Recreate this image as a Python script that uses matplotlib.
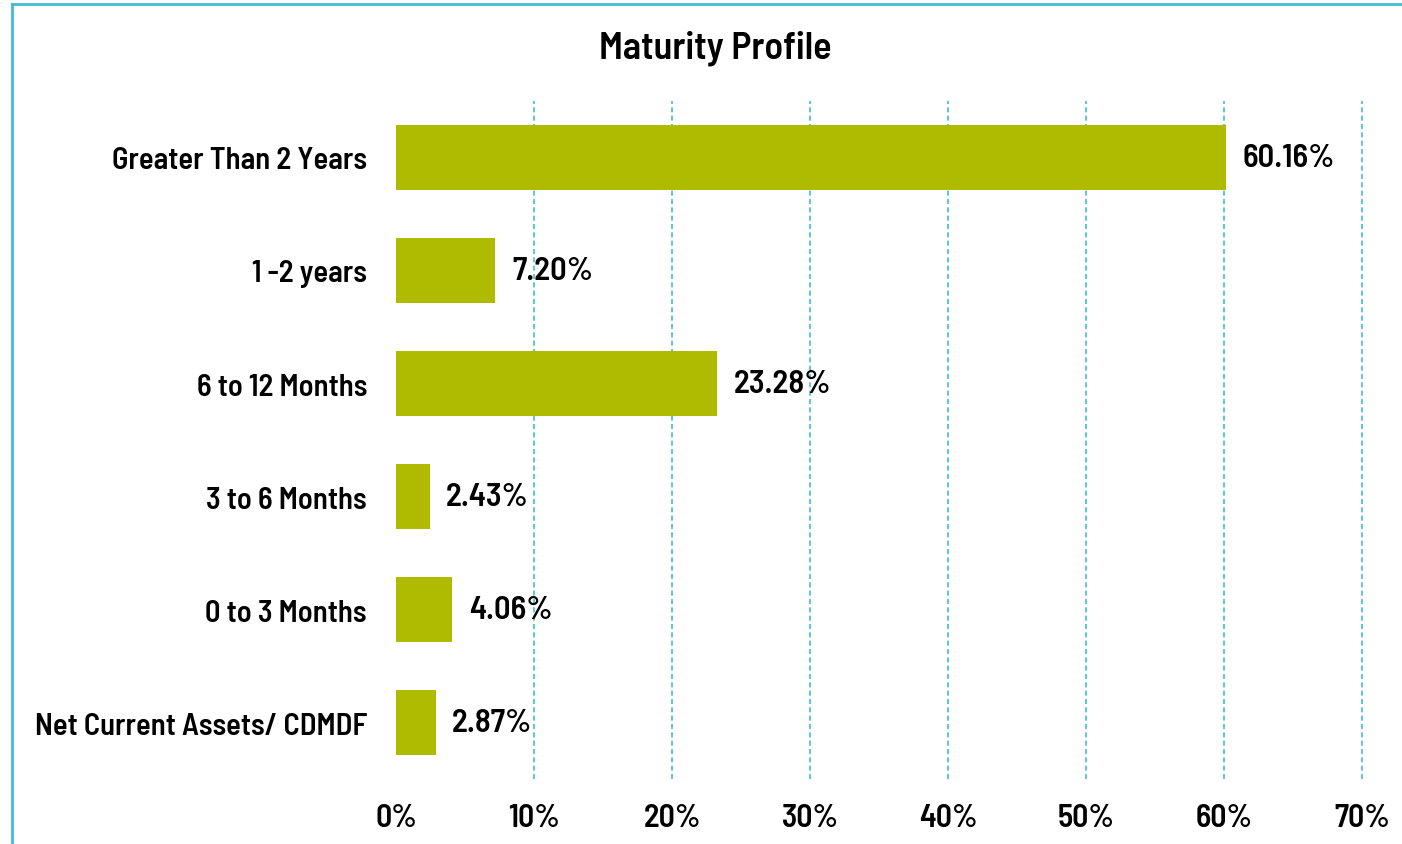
import matplotlib
matplotlib.use("Agg")
from matplotlib import pyplot as plt
import matplotlib.lines as mlines

categories = [
    "Greater Than 2 Years",
    "1 -2 years",
    "6 to 12 Months",
    "3 to 6 Months",
    "0 to 3 Months",
    "Net Current Assets/ CDMDF",
]
values = [60.16, 7.20, 23.28, 2.43, 4.06, 2.87]
ticks = [0, 10, 20, 30, 40, 50, 60, 70]

plt.rcParams['font.family'] = ['Barlow Semi Condensed', 'DejaVu Sans']
plt.rcParams['font.weight'] = 600

bar_color = "#afbb00"
line_color = "#3fbdd3"

fig = plt.figure(figsize=(14.02, 8.45), dpi=100)
ax = fig.add_axes([0.2825, 0.0769, 0.689, 0.8024])

y = range(len(categories))
ax.barh(y, values, height=0.57, color=bar_color, zorder=3)
for yi, v in zip(y, values):
    ax.text(v + 1.2, yi, f"{v:.2f}%", va="center", ha="left", fontsize=23.5, fontweight=600)

ax.set_ylim(len(categories) - 0.5, -0.5)
ax.set_xlim(0, 70)
ax.set_yticks(list(y))
ax.set_yticklabels(categories, fontsize=22, fontweight=600)
ax.set_xticks(ticks)
ax.set_xticklabels([f"{t}%" for t in ticks], fontsize=23, fontweight=600)
ax.tick_params(axis="both", length=0)
ax.tick_params(axis="y", pad=21)
ax.tick_params(axis="x", pad=17)

for t in ticks[1:]:
    ax.axvline(t, color=line_color, linestyle=(0, (3, 2)), linewidth=1.2, zorder=1, clip_on=False)
for s in ax.spines.values():
    s.set_visible(False)

fig.text(0.51, 0.943, "Maturity Profile", ha="center", va="center", fontsize=27.5, fontweight=600)

# outer frame (left and top edges)
fig.add_artist(mlines.Line2D([12 / 1402, 12 / 1402], [0, 1 - 5 / 845], color=line_color, linewidth=2))
fig.add_artist(mlines.Line2D([12 / 1402, 1], [1 - 5 / 845, 1 - 5 / 845], color=line_color, linewidth=2))

fig.savefig("out.png", dpi=100)
